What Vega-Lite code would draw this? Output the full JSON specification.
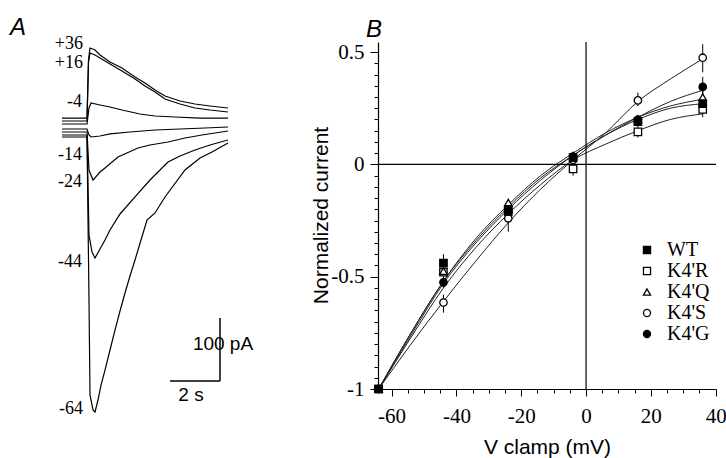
{
  "$schema": "https://vega.github.io/schema/vega-lite/v6.json",
  "autosize": "none",
  "padding": {"left": 378, "top": 42, "right": 10, "bottom": 69},
  "width": 338,
  "height": 347,
  "background": "white",
  "config": {
    "view": {"stroke": null},
    "axis": {"labelFont": "Liberation Serif", "labelFontSize": 21, "labelColor": "black", "tickColor": "black", "domainColor": "black", "domainWidth": 1.2, "grid": false, "titleFont": "Liberation Sans", "titleFontSize": 21, "titleFontWeight": "normal", "titleColor": "black", "labelOverlap": false, "labelBound": false, "labelFlush": false}
  },
  "datasets": {
    "traces": [
      {"trace": "+36", "t": -1.04, "i": 19.0}, {"trace": "+36", "t": -0.04, "i": 19.0}, {"trace": "+36", "t": 0.02, "i": 111.1}, {"trace": "+36", "t": 0.08, "i": 130.2}, {"trace": "+36", "t": 0.28, "i": 127.0}, {"trace": "+36", "t": 0.48, "i": 119.0}, {"trace": "+36", "t": 0.88, "i": 107.9}, {"trace": "+36", "t": 1.36, "i": 98.4}, {"trace": "+36", "t": 1.88, "i": 84.1}, {"trace": "+36", "t": 2.28, "i": 74.6}, {"trace": "+36", "t": 2.68, "i": 63.5}, {"trace": "+36", "t": 3.08, "i": 54.0}, {"trace": "+36", "t": 3.68, "i": 46.0}, {"trace": "+36", "t": 4.28, "i": 41.3}, {"trace": "+36", "t": 4.88, "i": 38.1}, {"trace": "+36", "t": 5.6, "i": 34.9},
      {"trace": "+16", "t": -1.04, "i": 14.3}, {"trace": "+16", "t": -0.04, "i": 14.3}, {"trace": "+16", "t": 0.02, "i": 107.9}, {"trace": "+16", "t": 0.08, "i": 122.2}, {"trace": "+16", "t": 0.28, "i": 119.0}, {"trace": "+16", "t": 0.48, "i": 114.3}, {"trace": "+16", "t": 0.88, "i": 104.8}, {"trace": "+16", "t": 1.36, "i": 93.7}, {"trace": "+16", "t": 1.88, "i": 81.0}, {"trace": "+16", "t": 2.28, "i": 69.8}, {"trace": "+16", "t": 2.68, "i": 60.3}, {"trace": "+16", "t": 3.08, "i": 49.2}, {"trace": "+16", "t": 3.68, "i": 41.3}, {"trace": "+16", "t": 4.28, "i": 34.9}, {"trace": "+16", "t": 4.88, "i": 31.7}, {"trace": "+16", "t": 5.6, "i": 28.6},
      {"trace": "-4", "t": -1.04, "i": 9.5}, {"trace": "-4", "t": -0.04, "i": 9.5}, {"trace": "-4", "t": 0.04, "i": 34.9}, {"trace": "-4", "t": 0.12, "i": 42.9}, {"trace": "-4", "t": 0.48, "i": 39.7}, {"trace": "-4", "t": 0.88, "i": 36.5}, {"trace": "-4", "t": 1.36, "i": 31.7}, {"trace": "-4", "t": 2.08, "i": 25.4}, {"trace": "-4", "t": 2.68, "i": 22.2}, {"trace": "-4", "t": 3.48, "i": 20.6}, {"trace": "-4", "t": 4.48, "i": 19.0}, {"trace": "-4", "t": 5.6, "i": 19.0},
      {"trace": "-14", "t": -1.04, "i": 1.6}, {"trace": "-14", "t": -0.04, "i": 1.6}, {"trace": "-14", "t": 0.04, "i": -7.9}, {"trace": "-14", "t": 0.12, "i": -11.1}, {"trace": "-14", "t": 0.48, "i": -9.5}, {"trace": "-14", "t": 0.88, "i": -6.3}, {"trace": "-14", "t": 1.68, "i": -3.2}, {"trace": "-14", "t": 2.68, "i": 0}, {"trace": "-14", "t": 3.68, "i": 1.6}, {"trace": "-14", "t": 4.68, "i": 3.2}, {"trace": "-14", "t": 5.6, "i": 4.8},
      {"trace": "-24", "t": -1.04, "i": -3.2}, {"trace": "-24", "t": -0.04, "i": -3.2}, {"trace": "-24", "t": 0.04, "i": -63.5}, {"trace": "-24", "t": 0.2, "i": -79.4}, {"trace": "-24", "t": 0.48, "i": -66.7}, {"trace": "-24", "t": 0.68, "i": -60.3}, {"trace": "-24", "t": 1.2, "i": -42.9}, {"trace": "-24", "t": 2.0, "i": -28.6}, {"trace": "-24", "t": 2.48, "i": -23.8}, {"trace": "-24", "t": 3.2, "i": -19.0}, {"trace": "-24", "t": 3.88, "i": -12.7}, {"trace": "-24", "t": 4.56, "i": -7.9}, {"trace": "-24", "t": 5.6, "i": -1.6},
      {"trace": "-44", "t": -1.04, "i": -7.9}, {"trace": "-44", "t": -0.04, "i": -7.9}, {"trace": "-44", "t": 0.04, "i": -166.7}, {"trace": "-44", "t": 0.16, "i": -193.7}, {"trace": "-44", "t": 0.28, "i": -203.2}, {"trace": "-44", "t": 0.48, "i": -188.9}, {"trace": "-44", "t": 0.68, "i": -174.6}, {"trace": "-44", "t": 0.88, "i": -158.7}, {"trace": "-44", "t": 1.28, "i": -133.3}, {"trace": "-44", "t": 1.88, "i": -106.3}, {"trace": "-44", "t": 2.48, "i": -79.4}, {"trace": "-44", "t": 3.2, "i": -50.8}, {"trace": "-44", "t": 3.68, "i": -41.3}, {"trace": "-44", "t": 4.28, "i": -31.7}, {"trace": "-44", "t": 4.88, "i": -23.8}, {"trace": "-44", "t": 5.6, "i": -15.9},
      {"trace": "-64", "t": -1.04, "i": -11.1}, {"trace": "-64", "t": -0.04, "i": -11.1}, {"trace": "-64", "t": 0.04, "i": -269.8}, {"trace": "-64", "t": 0.08, "i": -420.6}, {"trace": "-64", "t": 0.2, "i": -444.4}, {"trace": "-64", "t": 0.28, "i": -447.6}, {"trace": "-64", "t": 0.4, "i": -428.6}, {"trace": "-64", "t": 0.52, "i": -404.8}, {"trace": "-64", "t": 0.68, "i": -381.0}, {"trace": "-64", "t": 0.88, "i": -349.2}, {"trace": "-64", "t": 1.08, "i": -317.5}, {"trace": "-64", "t": 1.28, "i": -287.3}, {"trace": "-64", "t": 1.48, "i": -258.7}, {"trace": "-64", "t": 1.68, "i": -231.7}, {"trace": "-64", "t": 1.88, "i": -206.3}, {"trace": "-64", "t": 2.12, "i": -174.6}, {"trace": "-64", "t": 2.36, "i": -142.9}, {"trace": "-64", "t": 2.68, "i": -131.7}, {"trace": "-64", "t": 3.08, "i": -106.3}, {"trace": "-64", "t": 3.88, "i": -63.5}, {"trace": "-64", "t": 4.48, "i": -44.4}, {"trace": "-64", "t": 4.96, "i": -34.9}, {"trace": "-64", "t": 5.6, "i": -20.6}
    ],
    "scalebars": [
      {"t": 3.28, "t2": 5.28, "i": -398.4, "i2": -398.4},
      {"t": 5.28, "t2": 5.28, "i": -298.4, "i2": -398.4}
    ],
    "vlabels": [
      {"txt": "+36", "t": -0.2, "i": 137.0},
      {"txt": "+16", "t": -0.2, "i": 106.3},
      {"txt": "-4", "t": -0.24, "i": 44.4},
      {"txt": "-14", "t": -0.24, "i": -39.7},
      {"txt": "-24", "t": -0.24, "i": -82.5},
      {"txt": "-44", "t": -0.24, "i": -209.5},
      {"txt": "-64", "t": -0.2, "i": -442.9}
    ],
    "barlabels": [
      {"txt": "100 pA", "t": 5.4, "i": -339.7, "pos": "left"},
      {"txt": "2 s", "t": 4.12, "i": -420.6, "pos": "center"}
    ],
    "panelA": [{"txt": "A", "t": -3.12, "i": 161.9}],
    "panelB": [{"txt": "B", "v": -67.9, "n": 0.6}],
    "zero": [{"v": 0, "n": 0}],
    "points": [
      {"series": "K4'R", "v": -64, "n": -1}, {"series": "K4'R", "v": -44, "n": -0.48}, {"series": "K4'R", "v": -24, "n": -0.21}, {"series": "K4'R", "v": -4, "n": -0.02}, {"series": "K4'R", "v": 16, "n": 0.145}, {"series": "K4'R", "v": 36, "n": 0.245},
      {"series": "K4'Q", "v": -64, "n": -1}, {"series": "K4'Q", "v": -44, "n": -0.475}, {"series": "K4'Q", "v": -24, "n": -0.17}, {"series": "K4'Q", "v": -4, "n": 0.04}, {"series": "K4'Q", "v": 16, "n": 0.2}, {"series": "K4'Q", "v": 36, "n": 0.3},
      {"series": "K4'S", "v": -64, "n": -1}, {"series": "K4'S", "v": -44, "n": -0.615}, {"series": "K4'S", "v": -24, "n": -0.24}, {"series": "K4'S", "v": -4, "n": 0.02}, {"series": "K4'S", "v": 16, "n": 0.285}, {"series": "K4'S", "v": 36, "n": 0.475},
      {"series": "K4'G", "v": -64, "n": -1}, {"series": "K4'G", "v": -44, "n": -0.525}, {"series": "K4'G", "v": -24, "n": -0.21}, {"series": "K4'G", "v": -4, "n": 0.035}, {"series": "K4'G", "v": 16, "n": 0.2}, {"series": "K4'G", "v": 36, "n": 0.345},
      {"series": "WT", "v": -64, "n": -1}, {"series": "WT", "v": -44, "n": -0.44}, {"series": "WT", "v": -24, "n": -0.2}, {"series": "WT", "v": -4, "n": 0.03}, {"series": "WT", "v": 16, "n": 0.19}, {"series": "WT", "v": 36, "n": 0.27}
    ],
    "errors": [
      {"series": "WT", "v": -44, "lo": -0.46, "hi": -0.4}, {"series": "WT", "v": 16, "lo": 0.17, "hi": 0.22}, {"series": "WT", "v": 36, "lo": 0.21, "hi": 0.31},
      {"series": "K4'R", "v": -4, "lo": -0.05, "hi": 0.01}, {"series": "K4'R", "v": 16, "lo": 0.12, "hi": 0.17},
      {"series": "K4'Q", "v": -44, "lo": -0.5, "hi": -0.45}, {"series": "K4'Q", "v": 36, "lo": 0.27, "hi": 0.33},
      {"series": "K4'S", "v": -44, "lo": -0.66, "hi": -0.58}, {"series": "K4'S", "v": -24, "lo": -0.3, "hi": -0.2}, {"series": "K4'S", "v": 16, "lo": 0.26, "hi": 0.32}, {"series": "K4'S", "v": 36, "lo": 0.41, "hi": 0.535},
      {"series": "K4'G", "v": -44, "lo": -0.55, "hi": -0.5}, {"series": "K4'G", "v": 36, "lo": 0.3, "hi": 0.39}
    ],
    "fits": [
      {"series": "WT", "v": -64, "n": -1}, {"series": "WT", "v": -54, "n": -0.75}, {"series": "WT", "v": -44, "n": -0.52}, {"series": "WT", "v": -34, "n": -0.34}, {"series": "WT", "v": -24, "n": -0.19}, {"series": "WT", "v": -14, "n": -0.06}, {"series": "WT", "v": -4, "n": 0.04}, {"series": "WT", "v": 6, "n": 0.13}, {"series": "WT", "v": 16, "n": 0.2}, {"series": "WT", "v": 26, "n": 0.25}, {"series": "WT", "v": 36, "n": 0.27},
      {"series": "K4'R", "v": -64, "n": -1}, {"series": "K4'R", "v": -54, "n": -0.77}, {"series": "K4'R", "v": -44, "n": -0.55}, {"series": "K4'R", "v": -34, "n": -0.37}, {"series": "K4'R", "v": -24, "n": -0.22}, {"series": "K4'R", "v": -14, "n": -0.09}, {"series": "K4'R", "v": -4, "n": 0.02}, {"series": "K4'R", "v": 6, "n": 0.09}, {"series": "K4'R", "v": 16, "n": 0.15}, {"series": "K4'R", "v": 26, "n": 0.2}, {"series": "K4'R", "v": 36, "n": 0.225},
      {"series": "K4'Q", "v": -64, "n": -1}, {"series": "K4'Q", "v": -54, "n": -0.75}, {"series": "K4'Q", "v": -44, "n": -0.52}, {"series": "K4'Q", "v": -34, "n": -0.33}, {"series": "K4'Q", "v": -24, "n": -0.18}, {"series": "K4'Q", "v": -14, "n": -0.05}, {"series": "K4'Q", "v": -4, "n": 0.05}, {"series": "K4'Q", "v": 6, "n": 0.14}, {"series": "K4'Q", "v": 16, "n": 0.21}, {"series": "K4'Q", "v": 26, "n": 0.26}, {"series": "K4'Q", "v": 36, "n": 0.29},
      {"series": "K4'S", "v": -64, "n": -1}, {"series": "K4'S", "v": -54, "n": -0.8}, {"series": "K4'S", "v": -44, "n": -0.61}, {"series": "K4'S", "v": -34, "n": -0.43}, {"series": "K4'S", "v": -24, "n": -0.26}, {"series": "K4'S", "v": -14, "n": -0.11}, {"series": "K4'S", "v": -4, "n": 0.02}, {"series": "K4'S", "v": 6, "n": 0.14}, {"series": "K4'S", "v": 16, "n": 0.28}, {"series": "K4'S", "v": 26, "n": 0.38}, {"series": "K4'S", "v": 36, "n": 0.47},
      {"series": "K4'G", "v": -64, "n": -1}, {"series": "K4'G", "v": -54, "n": -0.76}, {"series": "K4'G", "v": -44, "n": -0.53}, {"series": "K4'G", "v": -34, "n": -0.35}, {"series": "K4'G", "v": -24, "n": -0.2}, {"series": "K4'G", "v": -14, "n": -0.07}, {"series": "K4'G", "v": -4, "n": 0.04}, {"series": "K4'G", "v": 6, "n": 0.13}, {"series": "K4'G", "v": 16, "n": 0.21}, {"series": "K4'G", "v": 26, "n": 0.28}, {"series": "K4'G", "v": 36, "n": 0.33}
    ]
  },
  "layer": [
    {
      "layer": [
        {
          "data": {"name": "traces"},
          "mark": {"type": "line", "color": "black", "strokeWidth": 1.2, "clip": false},
          "encoding": {
            "x": {"field": "t", "type": "quantitative", "scale": {"domain": [0, 6], "range": [-290, -140], "zero": false, "nice": false}, "axis": null},
            "y": {"field": "i", "type": "quantitative", "scale": {"domain": [-450, 200], "range": [371.5, -38], "zero": false, "nice": false}, "axis": null},
            "detail": {"field": "trace", "type": "nominal"}
          }
        },
        {
          "data": {"name": "scalebars"},
          "mark": {"type": "rule", "color": "black", "strokeWidth": 1.5},
          "encoding": {
            "x": {"field": "t", "type": "quantitative", "axis": null},
            "x2": {"field": "t2"},
            "y": {"field": "i", "type": "quantitative", "axis": null},
            "y2": {"field": "i2"}
          }
        },
        {
          "data": {"name": "vlabels"},
          "mark": {"type": "text", "align": "right", "baseline": "middle", "font": "Liberation Serif", "fontSize": 18, "color": "black"},
          "encoding": {
            "x": {"field": "t", "type": "quantitative", "axis": null},
            "y": {"field": "i", "type": "quantitative", "axis": null},
            "text": {"field": "txt"}
          }
        },
        {
          "data": {"name": "barlabels"},
          "mark": {"type": "text", "baseline": "middle", "font": "Liberation Sans", "fontSize": 19, "color": "black"},
          "encoding": {
            "x": {"field": "t", "type": "quantitative", "axis": null},
            "y": {"field": "i", "type": "quantitative", "axis": null},
            "text": {"field": "txt"},
            "align": {"field": "pos", "type": "nominal", "scale": null}
          }
        },
        {
          "data": {"name": "panelA"},
          "mark": {"type": "text", "align": "left", "baseline": "middle", "font": "Liberation Sans", "fontStyle": "italic", "fontSize": 24, "color": "black"},
          "encoding": {
            "x": {"field": "t", "type": "quantitative", "axis": null},
            "y": {"field": "i", "type": "quantitative", "axis": null},
            "text": {"field": "txt"}
          }
        }
      ]
    },
    {
      "resolve": {"axis": {"x": "independent", "y": "independent"}},
      "layer": [
        {
          "data": {"name": "fits"},
          "mark": {"type": "line", "color": "#222", "strokeWidth": 1, "interpolate": "monotone"},
          "encoding": {
            "x": {
              "field": "v", "type": "quantitative",
              "scale": {"domain": [-64.2, 40.1], "zero": false, "nice": false},
              "axis": {
                "orient": "bottom",
                "title": "V clamp (mV)",
                "values": [-60, -40, -20, 0, 20, 40],
                "labelExpr": "'' + datum.value",
                "labelPadding": 9,
                "tickSize": 7,
                "titleY": 47, "titleBaseline": "top"
              }
            },
            "y": {
              "field": "n", "type": "quantitative",
              "scale": {"domain": [-1, 0.545], "zero": false, "nice": false},
              "axis": {
                "orient": "left",
                "title": "Normalized current",
                "values": [-1, -0.5, 0, 0.5],
                "labelExpr": "datum.value > 0.4 ? '0.5' : datum.value > -0.1 ? '0' : datum.value > -0.6 ? '-0.5' : '-1'",
                "labelPadding": 6,
                "tickSize": 8,
                "titleX": -57, "titleY": 173, "titleBaseline": "middle", "titleAngle": 270
              }
            },
            "detail": {"field": "series", "type": "nominal"}
          }
        },
        {
          "data": {"name": "zero"},
          "mark": {"type": "rule", "color": "black", "strokeWidth": 1.2},
          "encoding": {
            "y": {"field": "n", "type": "quantitative", "axis": null}
          }
        },
        {
          "data": {"name": "zero"},
          "mark": {"type": "rule", "color": "black", "strokeWidth": 1.2},
          "encoding": {
            "x": {"field": "v", "type": "quantitative", "axis": null}
          }
        },
        {
          "data": {"name": "errors"},
          "mark": {"type": "rule", "color": "black", "strokeWidth": 1},
          "encoding": {
            "x": {"field": "v", "type": "quantitative",
              "axis": {"orient": "bottom", "values": [-55, -50, -45, -35, -30, -25, -15, -10, -5, 5, 10, 15, 25, 30, 35], "labels": false, "title": null, "domain": false, "tickSize": 4}},
            "y": {"field": "lo", "type": "quantitative",
              "axis": {"orient": "left", "values": [-0.95, -0.9, -0.85, -0.8, -0.75, -0.7, -0.65, -0.6, -0.55, -0.45, -0.4, -0.35, -0.3, -0.25, -0.2, -0.15, -0.1, -0.05, 0.05, 0.1, 0.15, 0.2, 0.25, 0.3, 0.35, 0.4, 0.45], "labels": false, "title": null, "domain": false, "tickSize": 4}},
            "y2": {"field": "hi"}
          }
        },
        {
          "data": {"name": "points"},
          "mark": {"type": "point", "filled": false, "strokeWidth": 1.3, "size": 55, "opacity": 1, "fillOpacity": 1},
          "encoding": {
            "x": {"field": "v", "type": "quantitative", "axis": null},
            "y": {"field": "n", "type": "quantitative", "axis": null},
            "shape": {
              "field": "series", "type": "nominal",
              "scale": {"domain": ["WT", "K4'R", "K4'Q", "K4'S", "K4'G"], "range": ["square", "square", "triangle-up", "circle", "circle"]},
              "legend": {
                "title": null, "orient": "none", "legendX": 259, "legendY": 198,
                "labelFont": "Liberation Serif", "labelFontSize": 20, "labelColor": "black",
                "symbolSize": 50, "symbolStrokeWidth": 1.3,
                "rowPadding": 1, "labelOffset": 10
              }
            },
            "fill": {
              "field": "series", "type": "nominal",
              "scale": {"domain": ["WT", "K4'R", "K4'Q", "K4'S", "K4'G"], "range": ["black", "white", "white", "white", "black"]},
              "legend": {
                "title": null, "orient": "none", "legendX": 259, "legendY": 198,
                "labelFont": "Liberation Serif", "labelFontSize": 20, "labelColor": "black",
                "symbolSize": 50, "symbolStrokeWidth": 1.3,
                "rowPadding": 1, "labelOffset": 10
              }
            },
            "stroke": {
              "field": "series", "type": "nominal",
              "scale": {"domain": ["WT", "K4'R", "K4'Q", "K4'S", "K4'G"], "range": ["black", "black", "black", "black", "black"]},
              "legend": {
                "title": null, "orient": "none", "legendX": 259, "legendY": 198,
                "labelFont": "Liberation Serif", "labelFontSize": 20, "labelColor": "black",
                "symbolSize": 50, "symbolStrokeWidth": 1.3,
                "rowPadding": 1, "labelOffset": 10
              }
            }
          }
        },
        {
          "data": {"name": "panelB"},
          "mark": {"type": "text", "align": "left", "baseline": "middle", "font": "Liberation Sans", "fontStyle": "italic", "fontSize": 24, "color": "black", "clip": false},
          "encoding": {
            "x": {"field": "v", "type": "quantitative", "axis": null},
            "y": {"field": "n", "type": "quantitative", "axis": null},
            "text": {"field": "txt"}
          }
        }
      ]
    }
  ],
  "resolve": {"scale": {"x": "independent", "y": "independent"}}
}
